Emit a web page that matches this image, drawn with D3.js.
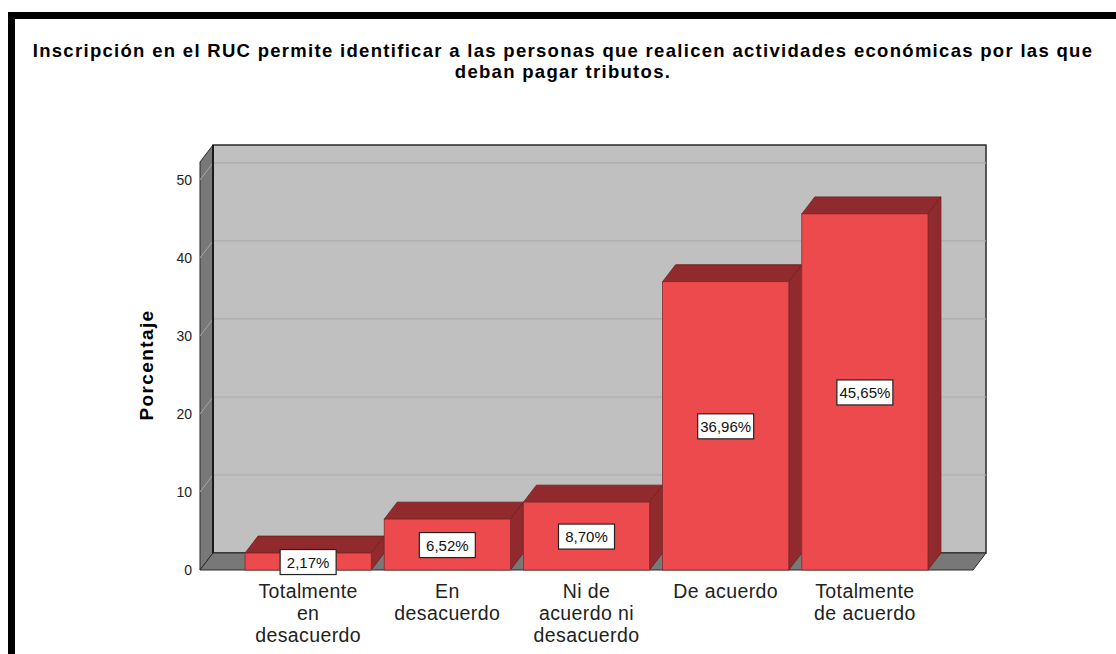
<!DOCTYPE html>
<html lang="es">
  <head>
    <meta charset="UTF-8" />
    <title>Inscripción en el RUC</title>
    <style>
      body {
        margin: 0;
        background: #fff;
        font-family: "Liberation Sans", Arial, sans-serif;
      }
      svg text { font-family: "Liberation Sans", Arial, sans-serif; }
    </style>
    <script src="https://d3js.org/d3.v7.min.js"></script>
  </head>
  <body>
  <script>
    const categories = [
      ["Totalmente", "en", "desacuerdo"],
      ["En", "desacuerdo"],
      ["Ni de", "acuerdo ni", "desacuerdo"],
      ["De acuerdo"],
      ["Totalmente", "de acuerdo"]
    ]
    const values = [2.17, 6.52, 8.70, 36.96, 45.65]
    const yTicks = [0, 10, 20, 30, 40, 50]
    const titleLines = [
      "Inscripción en el RUC permite identificar a las personas que realicen actividades económicas por las que",
      "deban pagar tributos."
    ]

    const W = 1116, H = 654
    const dx = 13, dy = -17   // depth of the 3D effect
    const x0 = 200, x1 = 973, yBase = 570, yTop = 162

    const svg = d3.select("body").append("svg")
        .attr("width", W)
        .attr("height", H)

    // frame edges
    svg.append("rect").attr("x", 8).attr("y", 12).attr("width", W - 8).attr("height", 7).attr("fill", "#000")
    svg.append("rect").attr("x", 8).attr("y", 12).attr("width", 7).attr("height", H - 12).attr("fill", "#000")

    svg.selectAll(".title")
      .data(titleLines)
      .enter().append("text")
        .attr("x", 563)
        .attr("y", (d, i) => 57 + i * 21)
        .attr("text-anchor", "middle")
        .attr("font-size", "18.5px")
        .attr("font-weight", "bold")
        .attr("letter-spacing", "1.3px")
        .attr("fill", "#000")
        .text(d => d)

    const keys = categories.map(c => c.join(" "))
    const x = d3.scaleBand()
        .domain(keys)
        .range([238.5, 934.5])
        .paddingInner(0.0935)
        .paddingOuter(0.047)

    const y = d3.scaleLinear()
        .domain([0, 52.3])
        .range([yBase, yTop])

    // left side wall
    svg.append("polygon")
        .attr("points", [[x0, yBase], [x0 + dx, yBase + dy], [x0 + dx, yTop + dy], [x0, yTop]].join(" "))
        .attr("fill", "#787878")
        .attr("stroke", "#2a2a2a")
        .attr("stroke-width", 1)

    // back wall
    svg.append("rect")
        .attr("x", x0 + dx)
        .attr("y", yTop + dy)
        .attr("width", x1 - x0)
        .attr("height", yBase - yTop)
        .attr("fill", "#c0c0c0")
        .attr("stroke", "#2a2a2a")
        .attr("stroke-width", 1.5)

    // floor
    svg.append("polygon")
        .attr("points", [[x0, yBase], [x1, yBase], [x1 + dx, yBase + dy], [x0 + dx, yBase + dy]].join(" "))
        .attr("fill", "#787878")
        .attr("stroke", "#2a2a2a")
        .attr("stroke-width", 1)

    // grid lines
    svg.selectAll(".grid")
      .data(yTicks.filter(d => d > 0))
      .enter().append("line")
        .attr("x1", x0 + dx)
        .attr("x2", x1 + dx)
        .attr("y1", d => y(d) + dy)
        .attr("y2", d => y(d) + dy)
        .attr("stroke", "#acacac")
        .attr("stroke-width", 1.2)

    svg.selectAll(".gridside")
      .data(yTicks.filter(d => d > 0))
      .enter().append("line")
        .attr("x1", x0)
        .attr("x2", x0 + dx)
        .attr("y1", d => y(d))
        .attr("y2", d => y(d) + dy)
        .attr("stroke", "#a6a6a6")
        .attr("stroke-width", 1)

    // dark back edge of the side wall
    svg.append("line")
        .attr("x1", x0 + dx).attr("x2", x0 + dx)
        .attr("y1", yTop + dy).attr("y2", yBase + dy)
        .attr("stroke", "#1a1a1a").attr("stroke-width", 2)

    // y tick labels
    svg.selectAll(".ytick")
      .data(yTicks)
      .enter().append("text")
        .attr("x", 192)
        .attr("y", d => y(d) + 5)
        .attr("text-anchor", "end")
        .attr("font-size", "14px")
        .attr("fill", "#222")
        .text(d => d)

    svg.append("text")
        .attr("transform", "translate(153,365) rotate(-90)")
        .attr("text-anchor", "middle")
        .attr("font-size", "19px")
        .attr("font-weight", "bold")
        .attr("letter-spacing", "1.4px")
        .text("Porcentaje")

    // bars
    const bars = svg.selectAll(".bar")
      .data(values)
      .enter().append("g")

    bars.append("polygon")
        .attr("points", (d, i) => {
          const l = x(keys[i]), r = l + x.bandwidth(), t = y(d)
          return [[l, t], [l + dx, t + dy], [r + dx, t + dy], [r, t]].join(" ")
        })
        .attr("fill", "#902a2c")
        .attr("stroke", "#6e1f20")
        .attr("stroke-width", 0.8)

    bars.append("polygon")
        .attr("points", (d, i) => {
          const r = x(keys[i]) + x.bandwidth(), t = y(d)
          return [[r, t], [r + dx, t + dy], [r + dx, yBase + dy], [r, yBase]].join(" ")
        })
        .attr("fill", "#902a2c")
        .attr("stroke", "#6e1f20")
        .attr("stroke-width", 0.8)

    bars.append("rect")
        .attr("x", (d, i) => x(keys[i]))
        .attr("y", d => y(d))
        .attr("width", x.bandwidth())
        .attr("height", d => yBase - y(d))
        .attr("fill", "#ec4a4c")
        .attr("stroke", "#8a2a2c")
        .attr("stroke-width", 0.8)

    // value labels
    const fmt = d => d.toFixed(2).replace(".", ",") + "%"
    const labels = svg.selectAll(".lab")
      .data(values)
      .enter().append("g")
        .attr("transform", (d, i) => `translate(${x(keys[i]) + x.bandwidth() / 2},${(y(d) + yBase) / 2})`)

    labels.append("rect")
        .attr("x", -28)
        .attr("y", -12)
        .attr("width", 56)
        .attr("height", 25)
        .attr("fill", "#fff")
        .attr("stroke", "#222")
        .attr("stroke-width", 1.2)

    labels.append("text")
        .attr("text-anchor", "middle")
        .attr("y", 6)
        .attr("font-size", "15px")
        .attr("fill", "#111")
        .text(fmt)

    // category labels
    categories.forEach((c, i) => {
      svg.append("text")
          .attr("text-anchor", "middle")
          .attr("font-size", "19.5px")
          .attr("letter-spacing", "0.4px")
          .attr("fill", "#222")
        .selectAll("tspan")
        .data(c)
        .enter().append("tspan")
          .attr("x", x(keys[i]) + x.bandwidth() / 2)
          .attr("y", (d, j) => 598 + j * 22)
          .text(d => d)
    })
  </script>
  </body>
</html>
